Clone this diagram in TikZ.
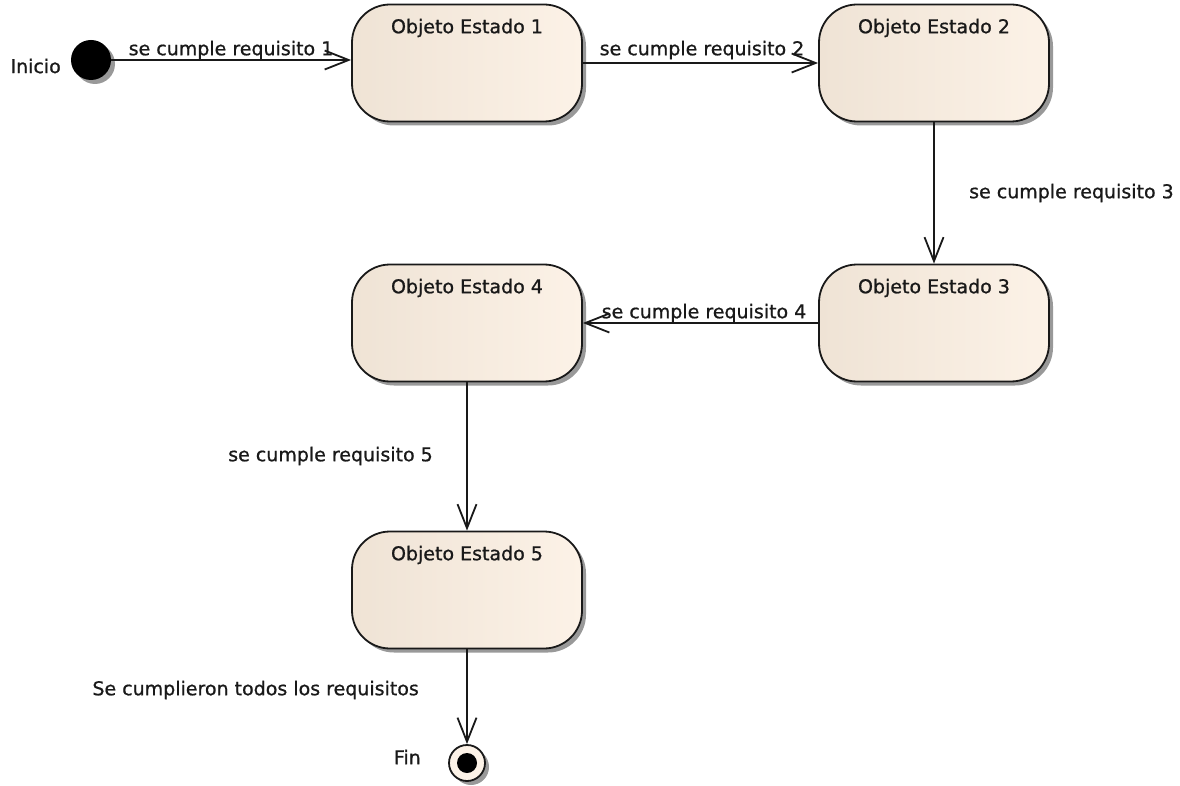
\documentclass[tikz,border=0pt]{standalone}
\usepackage{fontspec}
\setmainfont{DejaVu Sans}[BoldFont=DejaVu Sans, BoldFeatures={FakeBold=0.9}]
\usetikzlibrary{arrows.meta,shadows}

\definecolor{stateL}{RGB}{239,227,213}
\definecolor{stateR}{RGB}{252,242,231}
\definecolor{ink}{RGB}{25,25,25}

\begin{document}
\begin{tikzpicture}[x=1pt,y=-1pt,
  every node/.style={font=\fontsize{19}{21}\selectfont\bfseries, text=ink},
  softshadow/.style={drop shadow={shadow xshift=4pt,shadow yshift=-4pt,fill=black,opacity=0.4}},
  statebox/.style={draw=ink, line width=1.8pt, rounded corners=38pt,
    minimum width=230pt, minimum height=117pt, inner sep=0pt,
    left color=stateL, right color=stateR, softshadow},
  title/.style={anchor=north, yshift=-15pt, inner sep=0pt},
  flow/.style={draw=ink, line width=1.8pt,
    -{Straight Barb[length=24pt,width=19pt,line width=1.8pt]}},
  lbl/.style={inner sep=0pt}
]
\useasboundingbox (0,0) rectangle (1180,786);

% states
\node[statebox, label={[title]north:Objeto Estado 1}] (s1) at (467,63) {};
\node[statebox, label={[title]north:Objeto Estado 2}] (s2) at (934,63) {};
\node[statebox, label={[title]north:Objeto Estado 3}] (s3) at (934,323) {};
\node[statebox, label={[title]north:Objeto Estado 4}] (s4) at (467,323) {};
\node[statebox, label={[title]north:Objeto Estado 5}] (s5) at (467,590) {};

% initial pseudo-state
\node[circle, fill=black, minimum size=40pt, inner sep=0pt, softshadow] (ini) at (91,60) {};
\node[lbl, anchor=east] (inilbl) at (61,66) {Inicio};

% final pseudo-state
\node[circle, draw=ink, line width=1.8pt, fill=stateR, minimum size=36pt, inner sep=0pt, softshadow] (fin) at (467,763) {};
\node[circle, fill=black, minimum size=20pt, inner sep=0pt] (fincore) at (fin.center) {};
\node[lbl, anchor=east] (finlbl) at (421,757) {Fin};

% transitions
\draw[flow] (ini.east) -- (s1.west |- ini.east);
\draw[flow] (s1.east) -- (s2.west);
\draw[flow] (s2.south) -- (s3.north);
\draw[flow] (s3.west) -- (s4.east);
\draw[flow] (s4.south) -- (s5.north);
\draw[flow] (s5.south) -- (fin.north);

% transition labels
\node[lbl] (t1) at (231,50) {se cumple requisito 1};
\node[lbl] (t2) at (702,50) {se cumple requisito 2};
\node[lbl, anchor=west] (t3) at (969,193) {se cumple requisito 3};
\node[lbl] (t4) at (704,313) {se cumple requisito 4};
\node[lbl, anchor=east] (t5) at (433,456) {se cumple requisito 5};
\node[lbl, anchor=east] (t6) at (419,690) {Se cumplieron todos los requisitos};
\end{tikzpicture}
\end{document}
